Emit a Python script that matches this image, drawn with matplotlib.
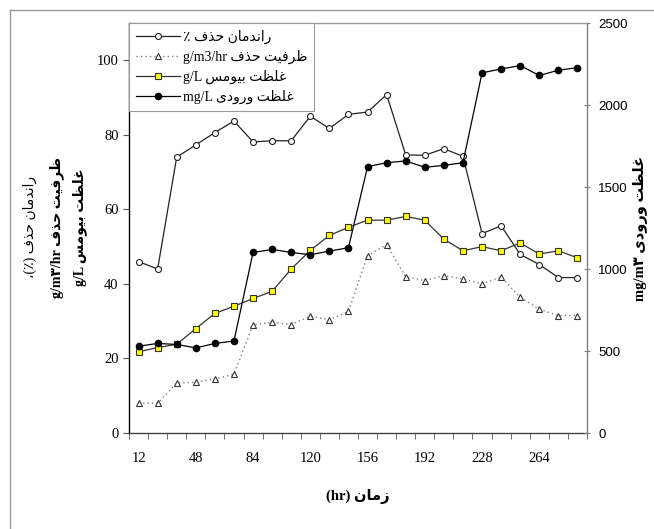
import re
import matplotlib
matplotlib.use('Agg')
import matplotlib.pyplot as plt
from matplotlib.lines import Line2D
from matplotlib import font_manager, ft2font

# ---------------- data ----------------
hours = [12, 24, 36, 48, 60, 72, 84, 96, 108, 120, 132, 144,
         156, 168, 180, 192, 204, 216, 228, 240, 252, 264, 276, 288]
removal_eff = [46, 44, 74, 77.3, 80.6, 83.7, 78.1, 78.4, 78.4, 85.0, 81.7, 85.5,
               86.1, 90.8, 74.6, 74.5, 76.3, 74.2, 53.5, 55.6, 47.9, 45.2, 41.7, 41.7]
capacity = [8, 8, 13.4, 13.6, 14.5, 15.8, 29.0, 29.7, 29.1, 31.3, 30.4, 32.6,
            47.6, 50.5, 41.9, 40.9, 42.2, 41.3, 40.0, 41.9, 36.4, 33.2, 31.5, 31.5]
biomass = [21.8, 22.9, 23.8, 28.0, 32.1, 34.0, 36.1, 38.0, 44.0, 49.0, 53.0, 55.2,
           57.1, 57.1, 58.1, 57.1, 52.0, 48.9, 50.0, 48.9, 51.0, 48.0, 48.9, 47.0]
inlet = [529, 546, 540, 519, 546, 561, 1101, 1119, 1101, 1087, 1109, 1130,
         1624, 1648, 1659, 1620, 1632, 1648, 2196, 2220, 2240, 2180, 2212, 2228]

xtick_labels = [12, 48, 84, 120, 156, 192, 228, 264]
left_ticks = [0, 20, 40, 60, 80, 100]
right_ticks = [0, 500, 1000, 1500, 2000, 2500]

legend_labels = ['راندمان حذف ٪', 'ظرفیت حذف g/m3/hr', 'غلظت بیومس g/L', 'غلظت ورودی mg/L']
left_labels = ['راندمان حذف (٪)،', 'ظرفیت حذف g/m۳/hr', 'غلظت بیومس g/L']
right_label = 'غلظت ورودی mg/m۳'
x_label = 'زمان (hr)'

# ---------------- Persian shaping / bidi ----------------
dv_path = font_manager.findfont(font_manager.FontProperties(family='DejaVu Sans'))
CMAP = ft2font.FT2Font(dv_path).get_charmap()


def has(cp):
    return cp in CMAP

FORMS = {
    'ا': (0xFE8D, 0xFE8E), 'د': (0xFEA9, 0xFEAA), 'ذ': (0xFEAB, 0xFEAC),
    'ر': (0xFEAD, 0xFEAE), 'ز': (0xFEAF, 0xFEB0), 'و': (0xFEED, 0xFEEE),
    'ب': (0xFE8F, 0xFE90, 0xFE91, 0xFE92), 'ت': (0xFE95, 0xFE96, 0xFE97, 0xFE98),
    'ح': (0xFEA1, 0xFEA2, 0xFEA3, 0xFEA4), 'س': (0xFEB1, 0xFEB2, 0xFEB3, 0xFEB4),
    'ظ': (0xFEC5, 0xFEC6, 0xFEC7, 0xFEC8), 'غ': (0xFECD, 0xFECE, 0xFECF, 0xFED0),
    'ف': (0xFED1, 0xFED2, 0xFED3, 0xFED4), 'ل': (0xFEDD, 0xFEDE, 0xFEDF, 0xFEE0),
    'م': (0xFEE1, 0xFEE2, 0xFEE3, 0xFEE4), 'ن': (0xFEE5, 0xFEE6, 0xFEE7, 0xFEE8),
}
if all(has(c) for c in (0xFBFC, 0xFBFD, 0xFBFE, 0xFBFF)):
    FORMS['ی'] = (0xFBFC, 0xFBFD, 0xFBFE, 0xFBFF)
else:
    FORMS['ی'] = (0xFEEF, 0xFEF0, 0xFEF3, 0xFEF4)


def shape(s):
    out = []
    for i, c in enumerate(s):
        if c not in FORMS:
            if c == '٪' and not has(ord(c)):
                c = '%'
            if c == '۳' and not has(ord(c)):
                c = '3'
            out.append(c)
            continue
        f = FORMS[c]
        prev = s[i - 1] if i > 0 else ''
        nxt = s[i + 1] if i + 1 < len(s) else ''
        jp = prev in FORMS and len(FORMS[prev]) == 4
        jn = len(f) == 4 and nxt in FORMS
        if jp and jn:
            cp = f[3]
        elif jp:
            cp = f[1]
        elif jn:
            cp = f[2]
        else:
            cp = f[0]
        out.append(chr(cp))
    return ''.join(out)

MIRROR = {'(': ')', ')': '('}


def fa(s):
    s = shape(s)
    segs = []
    pos = 0
    for m in re.finditer(r'[A-Za-z0-9\u06F0-\u06F9](?:[A-Za-z0-9\u06F0-\u06F9/.]*[A-Za-z0-9\u06F0-\u06F9])?', s):
        if m.start() > pos:
            segs.append(('r', s[pos:m.start()]))
        segs.append(('l', m.group()))
        pos = m.end()
    if pos < len(s):
        segs.append(('r', s[pos:]))
    vis = []
    for kind, t in reversed(segs):
        if kind == 'r':
            vis.append(''.join(MIRROR.get(ch, ch) for ch in reversed(t)))
        else:
            vis.append(t)
    return ''.join(vis)

FA_FAMILY = ['Liberation Serif', 'DejaVu Sans']

# ---------------- figure ----------------
W, H = 654, 529
fig = plt.figure(figsize=(W / 100, H / 100), dpi=100)
ax = fig.add_axes([129 / W, 1 - 433 / H, (587 - 129) / W, (433 - 23) / H])
ax2 = ax.twinx()

lw = 0.9
l1, = ax.plot(hours, removal_eff, color='#222222', lw=lw, marker='o', ms=4.3,
              mfc='white', mec='#222222', mew=0.8, zorder=3)
l2, = ax.plot(hours, capacity, color='#808080', lw=1.0, ls=(0, (1, 2.2)), marker='^', ms=5,
              mfc='white', mec='#333333', mew=0.8, zorder=3)
l3, = ax.plot(hours, biomass, color='#333333', lw=lw, marker='s', ms=4.5,
              mfc='#FFFF00', mec='#333333', mew=0.8, zorder=3)
l4, = ax2.plot(hours, inlet, color='black', lw=lw, marker='o', ms=4.5,
               mfc='black', mec='black', zorder=3)

ax.set_xlim(6, 294)
ax.set_ylim(0, 110)
ax2.set_ylim(0, 2500)

ax.set_xticks(xtick_labels)
ax.set_xticklabels([str(v) for v in xtick_labels], fontfamily='Liberation Serif', fontsize=10.5)
ax.set_xticks([6 + 12 * k for k in range(25)], minor=True)
ax.tick_params(axis='x', which='major', length=0, pad=14)
ax.tick_params(axis='x', which='minor', length=4, direction='out', color='#555555')

ax.set_yticks(left_ticks)
ax.set_yticklabels([str(v) for v in left_ticks], fontfamily='Liberation Serif', fontsize=10.5)
ax.tick_params(axis='y', length=4.5, direction='out', pad=3, color='#555555')

ax2.set_yticks(right_ticks)
ax2.set_yticklabels([str(v) for v in right_ticks], fontfamily='Liberation Sans', fontsize=9.5)
ax2.tick_params(axis='y', length=5, direction='inout', pad=5.5, color='#808080')

for sp in ('top', 'right'):
    ax.spines[sp].set_visible(False)
ax.spines['left'].set_color('black')
ax.spines['bottom'].set_color('#444444')
ax.spines['left'].set_linewidth(1.0)
ax.spines['bottom'].set_linewidth(1.0)
for sp in ('left', 'bottom'):
    ax2.spines[sp].set_visible(False)
ax2.spines['top'].set_color('#9a9a9a')
ax2.spines['right'].set_color('#808080')
ax2.spines['top'].set_linewidth(1.0)
ax2.spines['right'].set_linewidth(1.0)

leg = ax2.legend([l1, l2, l3, l4], [fa(t) for t in legend_labels], loc='upper left',
                 bbox_to_anchor=(0, 1), borderaxespad=0, frameon=True, fancybox=False,
                 framealpha=1, edgecolor='#9a9a9a', handlelength=3.2, handletextpad=0.2,
                 labelspacing=0.42, borderpad=0.5,
                 prop=font_manager.FontProperties(family=FA_FAMILY, size=10))
leg.get_frame().set_linewidth(0.8)

# axis titles
for xp, t, wgt in ((30, left_labels[0], 'normal'), (57, left_labels[1], 'bold'), (80, left_labels[2], 'bold')):
    fig.text(xp / W, 1 - 227 / H, fa(t), rotation=90, ha='center', va='center',
             family=FA_FAMILY, fontsize=10, fontweight=wgt)
fig.text(641 / W, 1 - 228 / H, fa(right_label), rotation=90, ha='center', va='center',
         family=FA_FAMILY, fontsize=10.5, fontweight='bold')
fig.text(358 / W, 1 - 497 / H, fa(x_label), ha='center', va='center',
         family=FA_FAMILY, fontsize=10.5, fontweight='bold')

# outer chart frame
fig.add_artist(Line2D([10 / W, 1.0], [1 - 10 / H, 1 - 10 / H], transform=fig.transFigure,
                      color='#9a9a9a', lw=1.0))
fig.add_artist(Line2D([10 / W, 10 / W], [1 - 10 / H, 0], transform=fig.transFigure,
                      color='#9a9a9a', lw=1.0))

fig.savefig('out.png', dpi=100)
